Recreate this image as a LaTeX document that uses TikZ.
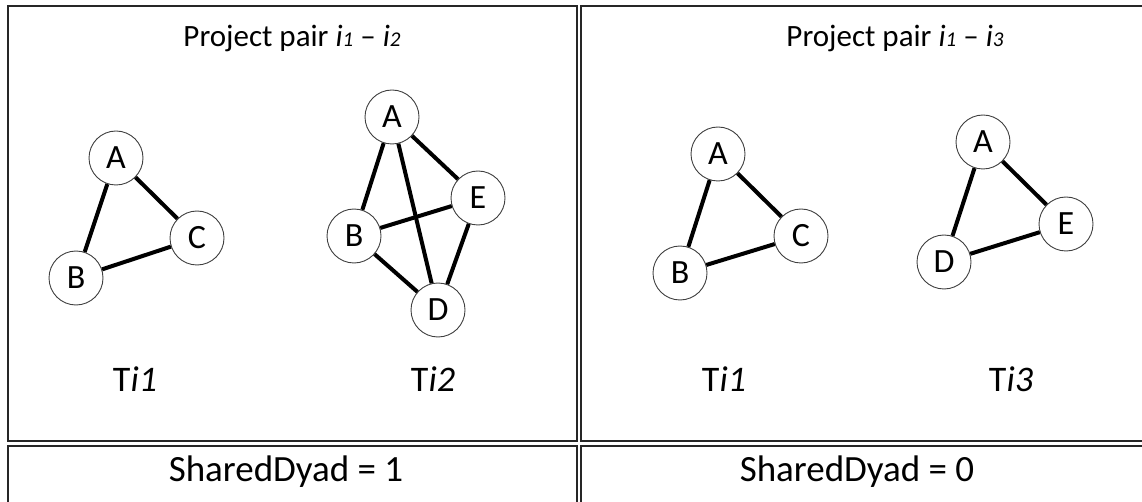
\documentclass[tikz,border=0pt]{standalone}
\usepackage{fontspec}
\setmainfont{Carlito}
\begin{document}
\begin{tikzpicture}[x=1pt,y=-1pt,
  vtx/.style={circle,draw=black!75,line width=0.9pt,fill=white,minimum size=54pt,inner sep=0pt,font=\fontsize{34}{36}\selectfont},
  edge/.style={line width=4pt,black},
  cell/.style={draw=black!85,line width=1.4pt},
  title/.style={anchor=base,inner sep=0pt,font=\fontsize{31}{36}\selectfont},
  tlbl/.style={anchor=base,inner sep=0pt,font=\fontsize{36}{40}\selectfont},
  result/.style={anchor=base,inner sep=0pt,font=\fontsize{37}{42}\selectfont}
]
\useasboundingbox (0,0) rectangle (1142,502);
\clip (0,0) rectangle (1142,502);
\newcommand{\smi}[1]{\textit{i}{\fontsize{21}{21}\selectfont\textit{#1}}}
% table cells
\draw[cell] (8,6) rectangle (577,441);
\draw[cell] (581,6) rectangle (1215,441);
\draw[cell] (8,446) rectangle (577,560);
\draw[cell] (581,446) rectangle (1215,560);
% titles
\node[title] (t1) at (292,47) {Project pair \smi{1} – \smi{2}};
\node[title] (t2) at (895,47) {Project pair \smi{1} – \smi{3}};
% graph Ti1 (left)
\node[vtx] (la) at (116,158) {A};
\node[vtx] (lb) at (76,278) {B};
\node[vtx] (lc) at (197,238) {C};
\draw[edge] (la) -- (lb);
\draw[edge] (la) -- (lc);
\draw[edge] (lb) -- (lc);
% graph Ti2
\node[vtx] (ma) at (392,117) {A};
\node[vtx] (mb) at (354,236) {B};
\node[vtx] (me) at (478,198) {E};
\node[vtx] (md) at (438,310) {D};
\draw[edge] (ma) -- (mb);
\draw[edge] (ma) -- (me);
\draw[edge] (ma) -- (md);
\draw[edge] (mb) -- (me);
\draw[edge] (mb) -- (md);
\draw[edge] (me) -- (md);
% graph Ti1 (right)
\node[vtx] (ra) at (718,154) {A};
\node[vtx] (rb) at (680,273) {B};
\node[vtx] (rc) at (801,236) {C};
\draw[edge] (ra) -- (rb);
\draw[edge] (ra) -- (rc);
\draw[edge] (rb) -- (rc);
% graph Ti3
\node[vtx] (sa) at (983,142) {A};
\node[vtx] (se) at (1066,224) {E};
\node[vtx] (sd) at (944,262) {D};
\draw[edge] (sa) -- (sd);
\draw[edge] (sa) -- (se);
\draw[edge] (sd) -- (se);
% graph labels
\node[tlbl] (l1) at (135,391) {T\textit{i1}};
\node[tlbl] (l2) at (433,391) {T\textit{i2}};
\node[tlbl] (l3) at (724,391) {T\textit{i1}};
\node[tlbl] (l4) at (1011,391) {T\textit{i3}};
% results
\node[result] (r1) at (286,481) {SharedDyad = 1};
\node[result] (r2) at (857,481) {SharedDyad = 0};
\end{tikzpicture}
\end{document}
